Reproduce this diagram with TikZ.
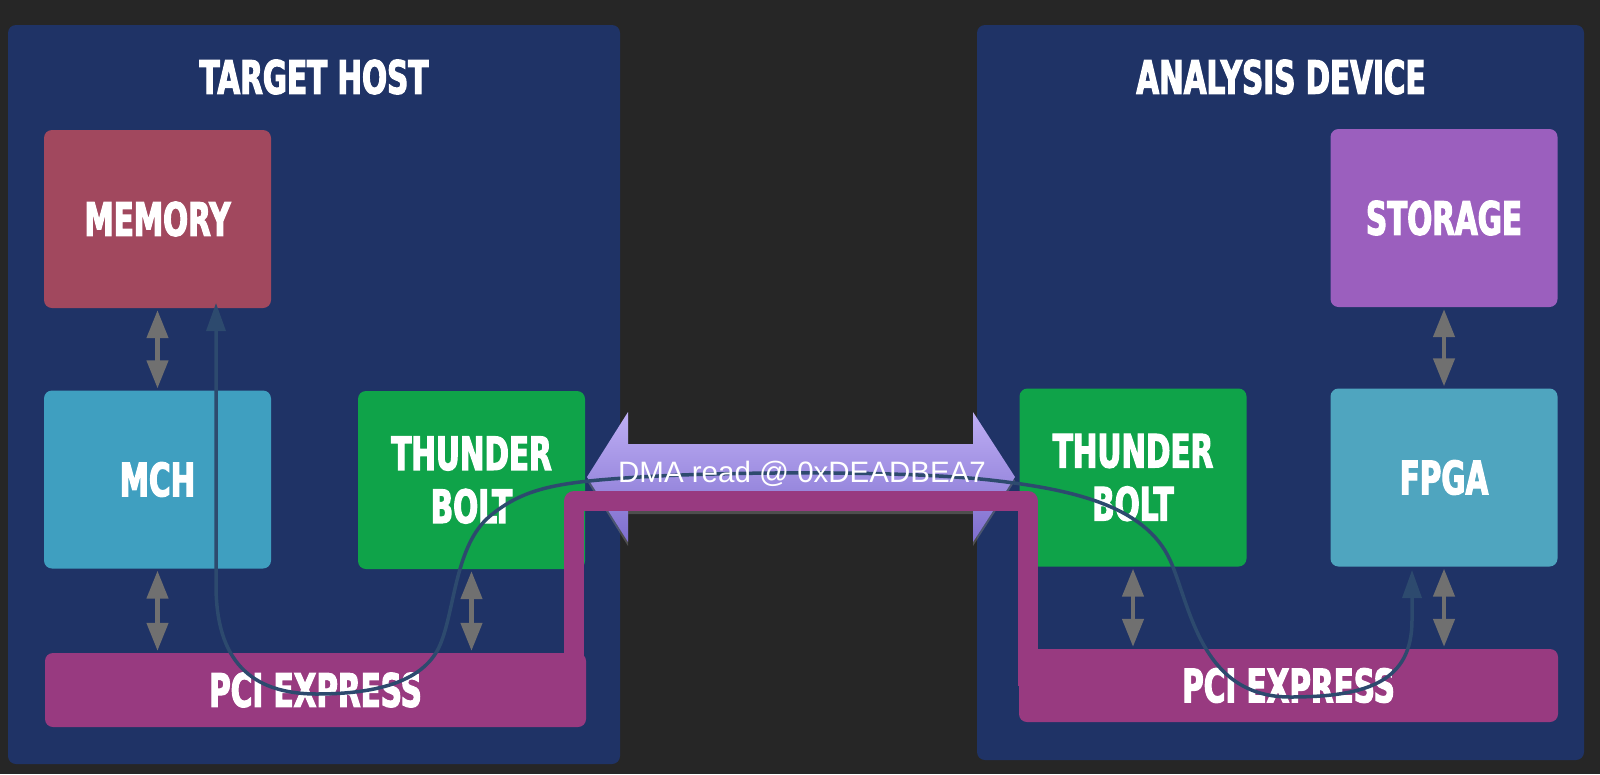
\documentclass[tikz,border=0pt]{standalone}
\usepackage{fontspec}
\usetikzlibrary{arrows.meta,shadows}
\newfontfamily\headfont{DejaVu Sans}[FakeStretch=0.64, BoldFeatures={FakeBold=2.5}]
\newfontfamily\dmafont{Liberation Sans}
\definecolor{canvas}{HTML}{262626}
\definecolor{panelblue}{HTML}{1F3366}
\definecolor{memred}{HTML}{A1485E}
\definecolor{mchblue}{HTML}{3F9FC0}
\definecolor{tbgreen}{HTML}{0FA349}
\definecolor{pciepink}{HTML}{983A80}
\definecolor{storpurple}{HTML}{9B5FBE}
\definecolor{fpgablue}{HTML}{4FA5BF}
\definecolor{busgrey}{HTML}{707070}
\definecolor{flowblue}{HTML}{2D4A6E}
\definecolor{dmatop}{HTML}{BEAEF4}
\definecolor{dmabot}{HTML}{7E6ECE}
\begin{document}
\begin{tikzpicture}[
  x=1pt, y=-1pt,
  every node/.style={font=\headfont\bfseries\fontsize{46}{53}\selectfont, text=white, align=center, inner sep=0pt},
  panel/.style={fill=panelblue, rounded corners=8pt},
  block/.style={rounded corners=8pt, minimum width=227pt, minimum height=178pt},
  busbar/.style={rounded corners=8pt, minimum height=74pt},
  busarrow/.style={draw=busgrey, line width=4.5pt, >={Triangle[length=28pt,width=21pt]}, <->, shorten <=2pt, shorten >=2pt},
  flow/.style={draw=flowblue, line width=3.5pt, >={Triangle[length=28pt,width=19pt]}, <->},
  pcielink/.style={draw=pciepink, line width=20pt, line join=round}
]
  \useasboundingbox (0,0) rectangle (1600,774);
  \fill[canvas] (0,0) rectangle (1600,774);

  \node[panel, minimum width=612pt, minimum height=739pt] (host) at (314,394.5) {};
  \node[panel, minimum width=607pt, minimum height=735pt] (device) at (1280.5,392.5) {};
  \node (hosttitle) at (314,77) {TARGET HOST};
  \node (devicetitle) at (1281,77) {ANALYSIS DEVICE};

  \node[block, fill=memred] (memory) at (157.5,219) {MEMORY};
  \node[block, fill=mchblue] (mch) at (157.5,479.5) {MCH};
  \node[block, fill=tbgreen] (tbhost) at (471.5,480) {THUNDER\\BOLT};
  \node[busbar, fill=pciepink, minimum width=541pt] (pcihost) at (315.5,690) {PCI EXPRESS};

  \node[block, fill=storpurple] (storage) at (1444,218) {STORAGE};
  \node[block, fill=tbgreen] (tbdev) at (1133,477.5) {THUNDER\\BOLT};
  \node[block, fill=fpgablue] (fpga) at (1444,477.5) {FPGA};
  \node[busbar, fill=pciepink, minimum width=539pt, minimum height=73pt] (pcidev) at (1288.5,685.5) {PCI EXPRESS};

  \draw[busarrow] (memory) -- (mch);
  \draw[busarrow] (mch.south) -- (mch.south |- pcihost.north);
  \draw[busarrow] (tbhost.south) -- (tbhost.south |- pcihost.north);
  \draw[busarrow] (storage) -- (fpga);
  \draw[busarrow] (fpga.south) -- (fpga.south |- pcidev.north);
  \draw[busarrow] (tbdev.south) -- (tbdev.south |- pcidev.north);

  \path[drop shadow={shadow xshift=0pt, shadow yshift=-4pt, opacity=0.45}, top color=dmatop, bottom color=dmabot]
    (587,477) -- (628,412) -- (628,444) -- (973,444) -- (973,412) -- (1015,477)
    -- (973,542) -- (973,510) -- (628,510) -- (628,542) -- cycle;

  \coordinate (linkhost) at (574,501);
  \coordinate (linkdev) at (1028,501);
  \draw[pcielink] (linkhost |- pcihost.center) -- (linkhost) -- (linkdev) -- (linkdev |- pcidev.center);

  \coordinate (memtap) at (216,303);
  \coordinate (fpgatap) at (1412,570);
  \draw[flow] (memtap) -- (216,585)
    .. controls (216,660) and (250,694) .. (317,694)
    .. controls (380,694) and (425,680) .. (440,645)
    .. controls (455,610) and (455,545) .. (490,516)
    .. controls (525,487) and (560,482) .. (640,477)
    .. controls (720,472) and (900,470) .. (990,480)
    .. controls (1070,489) and (1145,505) .. (1170,560)
    .. controls (1190,604) and (1200,697) .. (1290,697)
    .. controls (1370,697) and (1412,680) .. (1412,620)
    -- (fpgatap);

  \node[font=\dmafont\fontsize{29.5}{35}\selectfont, anchor=base] (dmalabel) at (802,482) {DMA read @ 0xDEADBEA7};
\end{tikzpicture}
\end{document}
